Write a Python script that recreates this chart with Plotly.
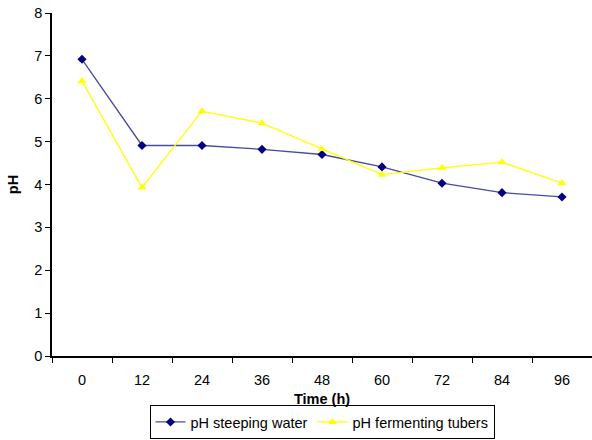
import plotly.graph_objects as go

time_labels = ["0", "12", "24", "36", "48", "60", "72", "84", "96"]
ph_steeping_water = [6.92, 4.91, 4.91, 4.82, 4.70, 4.41, 4.03, 3.81, 3.71]
ph_fermenting_tubers = [6.41, 3.93, 5.71, 5.43, 4.83, 4.23, 4.39, 4.52, 4.03]

FONT = "Liberation Sans, Arial, sans-serif"

fig = go.Figure()
fig.add_trace(go.Scatter(
    x=time_labels, y=ph_steeping_water, name="pH steeping water",
    mode="lines+markers",
    line=dict(color="#4a4a9e", width=1.3),
    marker=dict(symbol="diamond", size=7, color="#000080"),
))
fig.add_trace(go.Scatter(
    x=time_labels, y=ph_fermenting_tubers, name="pH fermenting tubers",
    mode="lines+markers",
    line=dict(color="#ffff00", width=1.3),
    marker=dict(symbol="triangle-up", size=8, color="#ffff00"),
))

fig.update_layout(
    width=592, height=440,
    margin=dict(l=52, r=0, t=13, b=84, autoexpand=False),
    paper_bgcolor="white", plot_bgcolor="white",
    font=dict(family=FONT, size=14, color="black"),
    showlegend=True,
    legend=dict(
        orientation="h", x=0.5, xanchor="center", y=-0.242, yanchor="bottom",
        bordercolor="black", borderwidth=1, bgcolor="white",
        font=dict(family=FONT, size=14.5, color="black"),
        itemwidth=30, tracegroupgap=0,
    ),
    xaxis=dict(
        type="category", range=[-0.5, 8.5],
        showline=True, linecolor="black", linewidth=1.5,
        ticks="outside", tickson="boundaries", ticklen=5, tickcolor="black",
        showgrid=False, zeroline=False,
        tickfont=dict(family=FONT, size=14.5),
        ticklabelstandoff=10,
        title=dict(text="<b>Time (h)</b>", font=dict(family=FONT, size=14.5), standoff=7),
    ),
    yaxis=dict(
        range=[0, 8], dtick=1,
        showline=True, linecolor="black", linewidth=1.5,
        ticks="outside", ticklen=5, tickcolor="black",
        showgrid=False, zeroline=False,
        tickfont=dict(family=FONT, size=14.5),
        title=dict(text="<b>pH</b>", font=dict(family=FONT, size=14.5), standoff=12),
    ),
)

fig.write_html("out.html")
